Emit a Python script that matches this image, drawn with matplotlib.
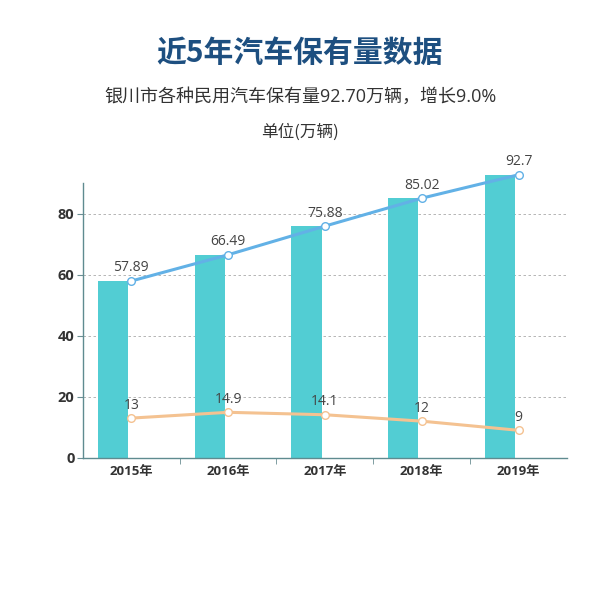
import numpy as np
import matplotlib
matplotlib.use('Agg')
import matplotlib.pyplot as plt

plt.rcParams['font.family'] = ['Noto Sans CJK SC', 'DejaVu Sans']
num_font = ['Open Sans', 'Noto Sans CJK SC', 'DejaVu Sans']

# data
years = ['2015年', '2016年', '2017年', '2018年', '2019年']
total = [57.89, 66.49, 75.88, 85.02, 92.7]
total_labels = ['57.89', '66.49', '75.88', '85.02', '92.7']
growth = [13, 14.9, 14.1, 12, 9]
growth_labels = ['13', '14.9', '14.1', '12', '9']
yticks = [0, 20, 40, 60, 80]

bar_color = '#52CDD3'
blue = '#62B1E6'
orange = '#F4C291'

fig = plt.figure(figsize=(6, 6), dpi=100)
ax = fig.add_axes([0.138, 0.237, 0.807, 0.458])

x = np.arange(len(years))
ax.bar(x - 0.19, total, width=0.31, color=bar_color, zorder=2, clip_on=False)

ax.plot(x, total, color=blue, lw=2.2, zorder=3, clip_on=False,
        marker='o', ms=5.5, mfc='white', mec=blue, mew=1)
ax.plot(x, growth, color=orange, lw=2.2, zorder=3, clip_on=False,
        marker='o', ms=5.5, mfc='white', mec=orange, mew=1)

# value labels (some sit above the top of the y range, so no clipping)
for xi, v, s in zip(x, total, total_labels):
    ax.annotate(s, (xi, v), xytext=(0, 4), textcoords='offset points',
                ha='center', va='bottom', fontsize=10, color='#444444',
                family=num_font, annotation_clip=False)
for xi, v, s in zip(x, growth, growth_labels):
    ax.annotate(s, (xi, v), xytext=(0, 4), textcoords='offset points',
                ha='center', va='bottom', fontsize=10, color='#444444',
                family=num_font, annotation_clip=False)

ax.set_xlim(-0.5, len(years) - 0.5)
ax.set_ylim(0, 90)
ax.set_yticks(yticks)
ax.set_xticks(x)
ax.set_xticklabels(years, fontsize=9.5, fontweight='bold', color='#333333',
                   family=num_font)
ax.set_xticks(np.arange(len(years) - 1) + 0.5, minor=True)
for lab in ax.get_yticklabels():
    lab.set_fontsize(10.5)
    lab.set_fontweight('bold')
    lab.set_color('#333333')
    lab.set_family(num_font)
ax.tick_params(axis='x', which='major', length=0, pad=5)
ax.tick_params(axis='x', which='minor', length=4, color='#6b8e93')
ax.tick_params(axis='y', length=4, color='#6b8e93', pad=2)

ax.grid(axis='y', linestyle=(0, (3, 3)), color='#aaaaaa', lw=0.6, zorder=0)
for side in ['top', 'right']:
    ax.spines[side].set_visible(False)
for side in ['left', 'bottom']:
    ax.spines[side].set_color('#5f8b90')
    ax.spines[side].set_linewidth(1)

fig.text(0.5, 0.912, '近5年汽车保有量数据', ha='center', va='center',
         fontsize=21.5, fontweight='heavy', color='#1D4F80')
fig.text(0.5, 0.838, '银川市各种民用汽车保有量92.70万辆，增长9.0%',
         ha='center', va='center', fontsize=13, color='#333333',
         family=num_font)
fig.text(0.5, 0.780, '单位(万辆)', ha='center', va='center',
         fontsize=12, color='#333333')

fig.savefig('out.png', dpi=100, facecolor='white')
